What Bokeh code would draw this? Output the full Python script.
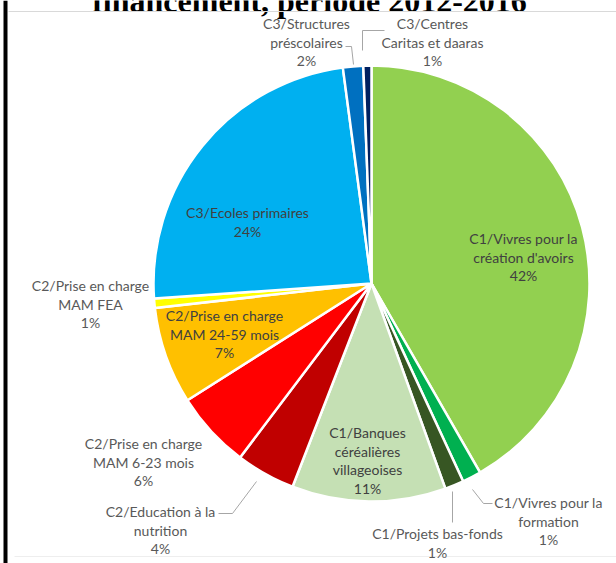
import math
from bokeh.plotting import figure
from bokeh.models import ColumnDataSource, Range1d
from bokeh.core.properties import value
from bokeh.embed import file_html
from bokeh.resources import INLINE

# ---------------- data ----------------
categories = [
    "C1/Vivres pour la\ncréation d'avoirs",
    "C1/Vivres pour la\nformation",
    "C1/Projets bas-fonds",
    "C1/Banques\ncéréalières\nvillageoises",
    "C2/Education à la\nnutrition",
    "C2/Prise en charge\nMAM 6-23 mois",
    "C2/Prise en charge\nMAM 24-59 mois",
    "C2/Prise en charge\nMAM FEA",
    "C3/Ecoles primaires",
    "C3/Structures\npréscolaires",
    "C3/Centres\nCaritas et daaras",
]
values = [41.7, 1.4, 1.4, 11.4, 4.4, 5.7, 7.2, 0.7, 24.0, 1.5, 0.6]
colors = ["#92D050", "#00B050", "#375623", "#C5E0B4", "#C00000", "#FF0000",
          "#FFC000", "#FFFF00", "#00B0F0", "#0070C0", "#002060"]
title_text = "financement, période 2012-2016"

# ---------------- layout ----------------
W, H = 616, 563
CX, CY, R = 371, 283, 218          # pixel coords (top-down)
label_pos = [(523, 238), (548, 502), (437, 533), (367, 432), (160, 511), (143, 443),
             (224, 315), (90, 285), (247, 212), (306, 23), (432, 23)]
inside = [True, False, False, True, False, False, True, False, True, False, False]
LINE_H = 18.5
leaders = [
    [(492, 503), (483, 503), (472, 489)],
    [(452, 522), (452, 491)],
    [(218, 513), (232, 513), (256, 481)],
    [(345, 46), (351, 46), (353, 64)],
    [(384, 30), (362, 30), (362, 50)],
]


def Y(yp):
    return H - yp


p = figure(width=W, height=H, x_range=Range1d(0, W), y_range=Range1d(0, H),
           toolbar_location=None, output_backend="svg", min_border=0)
p.axis.visible = False
p.grid.visible = False
p.outline_line_color = None
p.background_fill_color = "white"
p.border_fill_color = "white"

# wedges
total = sum(values)
cum = 0.0
starts, ends = [], []
for v in values:
    f0 = cum / total
    cum += v
    f1 = cum / total
    starts.append(math.pi / 2 - 2 * math.pi * f1)
    ends.append(math.pi / 2 - 2 * math.pi * f0)

src = ColumnDataSource(dict(x=[CX] * len(values), y=[Y(CY)] * len(values),
                            start=starts, end=ends, color=colors))
p.wedge(x="x", y="y", radius=R, start_angle="start", end_angle="end",
        fill_color="color", line_color="white", line_width=2.5, source=src)

# leader lines
for pts in leaders:
    p.line([q[0] for q in pts], [Y(q[1]) for q in pts], line_color="#a6a6a6", line_width=1)

# title (cut off at top, as in the source image)
p.text(x=[309], y=[Y(0)], text=[title_text], text_align="center", text_baseline="alphabetic",
       text_font=value("Liberation Serif"), text_font_style="bold", text_font_size="32px",
       text_color="black")

# frame decorations
p.line([8, W], [Y(11), Y(11)], line_color="#d9d9d9", line_width=1)
p.line([14, W], [Y(556), Y(556)], line_color="#eeeeee", line_width=1)
p.line([5, 5], [0, H], line_color="black", line_width=4)

# labels
tx, ty, tt, tc = [], [], [], []
for i, cat in enumerate(categories):
    lines = cat.split("\n") + [f"{round(values[i])}%"]
    x0, y0 = label_pos[i]
    for k, ln in enumerate(lines):
        tx.append(x0)
        ty.append(Y(y0 + k * LINE_H))
        tt.append(ln)
        tc.append("#404040" if inside[i] else "#595959")
p.text(x=tx, y=ty, text=tt, text_color=tc, text_align="center", text_baseline="middle",
       text_font=value("Lato"), text_font_size="14px")

open("out.html", "w").write(file_html(p, INLINE))
